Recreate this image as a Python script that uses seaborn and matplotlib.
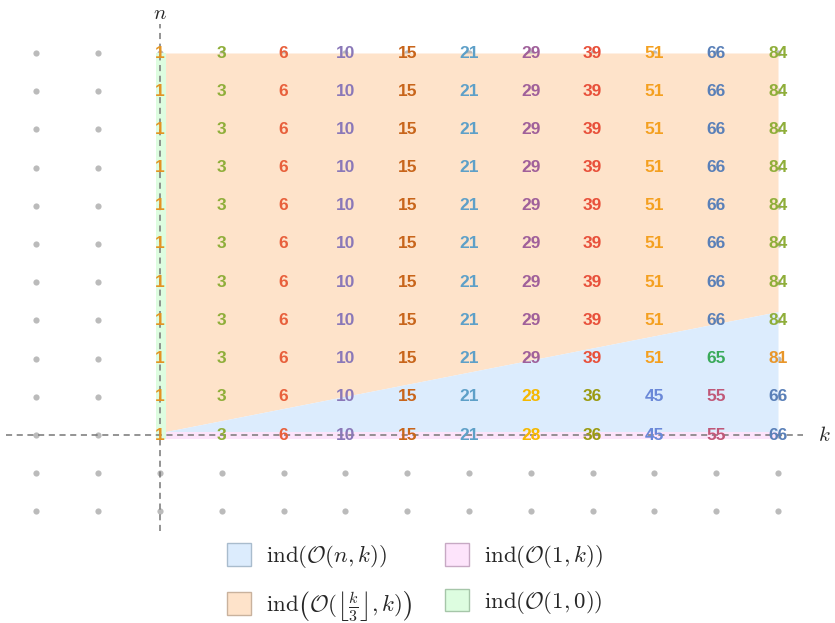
import numpy as np
import pandas as pd
import matplotlib
matplotlib.use("Agg")
import matplotlib.pyplot as plt
import seaborn as sns
from matplotlib.patches import Patch

# ---- data ----
k_values = list(range(0, 11))
n_values = list(range(0, 11))
row_upper = [1, 3, 6, 10, 15, 21, 29, 39, 51, 66, 84]   # n = 3..10
row_n2 = [1, 3, 6, 10, 15, 21, 29, 39, 51, 65, 81]
row_n1 = [1, 3, 6, 10, 15, 21, 28, 36, 45, 55, 66]
row_n0 = [1, 3, 6, 10, 15, 21, 28, 36, 45, 55, 66]
grid_k = list(range(-2, 11))
grid_n = list(range(-2, 11))

value_colors = {
    1: "#e39423", 3: "#8fae3a", 6: "#e8603c", 10: "#8a78b8", 15: "#c8651b",
    21: "#5ea0c8", 29: "#a0609a", 39: "#e8503a", 51: "#f4a020", 66: "#5a80b8",
    84: "#8fae3a", 28: "#f5b800", 36: "#9a9a10", 45: "#6a88d8", 55: "#c05878",
    65: "#3aaa5a", 81: "#e8962a",
}

rows = {0: row_n0, 1: row_n1, 2: row_n2}
for n in range(3, 11):
    rows[n] = row_upper

sns.set_theme(style="white")
plt.rcParams["mathtext.fontset"] = "cm"

fig = plt.figure(figsize=(8.35, 6.23), dpi=100)
ax = fig.add_axes([0, 0, 1, 1])
ax.set_xlim(-160 / 61.8, (835 - 160) / 61.8)
ax.set_ylim(-(623 - 435) / 38.2, 435 / 38.2)
ax.axis("off")

# lattice dots
gk, gn = np.meshgrid(grid_k, grid_n)
dots = pd.DataFrame({"k": gk.ravel(), "n": gn.ravel()})
sns.scatterplot(data=dots, x="k", y="n", color="#bbbbbb", s=20, linewidth=0,
                ax=ax, zorder=1, legend=False)

# regions
c_blue = "#dcecfd"
c_orange = "#fee3ca"
c_pink = "#fde4fb"
c_green = "#ddfde0"
kk = np.array([0.06, 10.0])
line = 0.08 + 0.317 * (kk - 0.06)
ax.fill_between(kk, line, 10.0, color=c_orange, lw=0, zorder=2)
ax.fill_between(kk, 0.08, line, color=c_blue, lw=0, zorder=2)
ax.fill_between(kk, -0.1, 0.08, color=c_pink, lw=0, zorder=2)
ax.fill_between([-0.06, 0.09], -0.1, 10.0, color=c_green, lw=0, zorder=2)

# axes lines
ax.plot([-2.5, 10.4], [0, 0], ls=(0, (4, 3)), color="#777777", lw=1.1, zorder=3)
ax.plot([0, 0], [-2.5, 10.75], ls=(0, (4, 3)), color="#777777", lw=1.1, zorder=3)
ax.text(0, (435 - 13) / 38.2, "$n$", ha="center", va="center", fontsize=15)
ax.text(10.75, 0, "$k$", ha="center", va="center", fontsize=15)

# numbers
for n in n_values:
    for k, v in zip(k_values, rows[n]):
        ax.text(k, n, str(v), ha="center", va="center", fontsize=12.5,
                fontweight="bold", family="Liberation Sans",
                color=value_colors[v], zorder=4)

handles = [
    Patch(facecolor=c_blue, edgecolor="#a9bccd", label=r"$\mathrm{ind}\left(\mathcal{O}(n,k)\right)$"),
    Patch(facecolor=c_orange, edgecolor="#c9b29d", label=r"$\mathrm{ind}\left(\mathcal{O}(\left\lfloor\frac{k}{3}\right\rfloor,k)\right)$"),
    Patch(facecolor=c_pink, edgecolor="#c7a9c4", label=r"$\mathrm{ind}\left(\mathcal{O}(1,k)\right)$"),
    Patch(facecolor=c_green, edgecolor="#a6c6a9", label=r"$\mathrm{ind}\left(\mathcal{O}(1,0)\right)$"),
]
fig.legend(handles=handles, ncol=2, loc="center", bbox_to_anchor=(415 / 835, 1 - 583 / 623),
           frameon=False, fontsize=16.5, handlelength=1.05, handleheight=1.15,
           columnspacing=1.4, labelspacing=0.8, handletextpad=0.65)

fig.savefig("out.png", dpi=100)
